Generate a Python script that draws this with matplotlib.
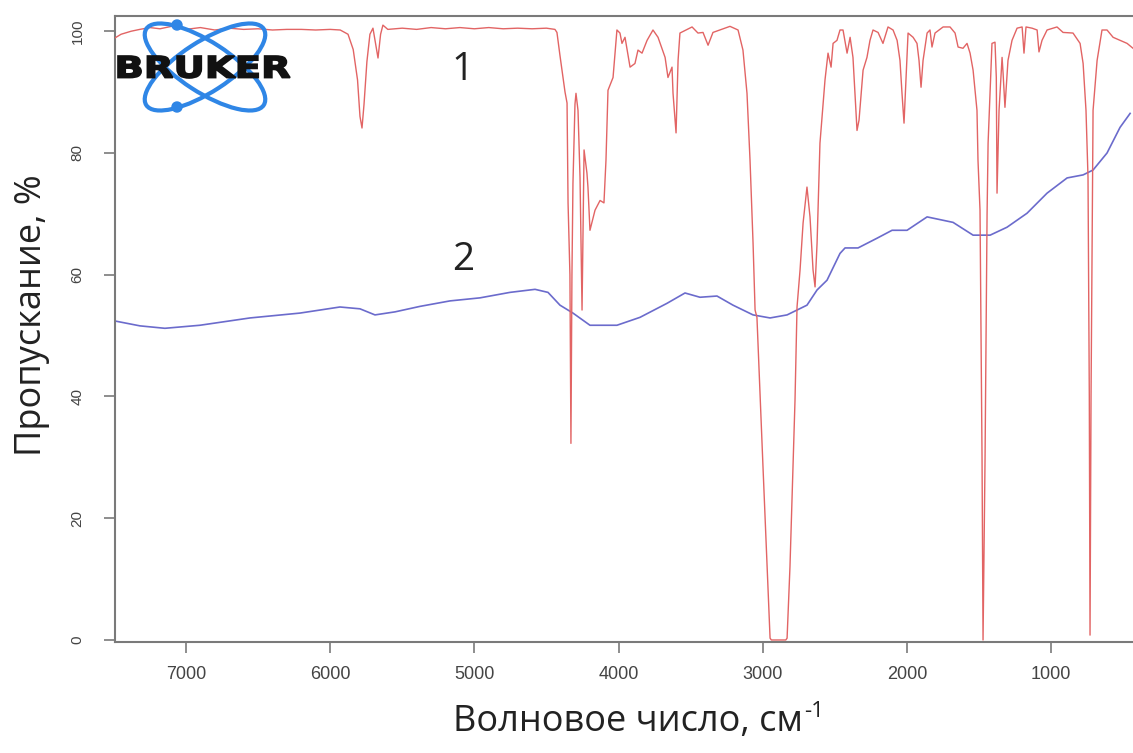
import matplotlib
matplotlib.use("Agg")
import matplotlib.pyplot as plt
from matplotlib.patches import Ellipse, Circle, PathPatch
from matplotlib.textpath import TextPath
from matplotlib.font_manager import FontProperties
from matplotlib.transforms import Affine2D

# ---------------- data ----------------
wn1 = [7492, 7450, 7423, 7380, 7320, 7250, 7180, 7100, 7000, 6900, 6800, 6700, 6600,
       6500, 6400, 6300, 6200, 6100, 6000, 5930, 5876, 5840, 5810, 5793, 5779, 5765,
       5745, 5724, 5703, 5685, 5668, 5650, 5634, 5600, 5500, 5400, 5300, 5200, 5100,
       5000, 4900, 4800, 4700, 4600, 4500, 4441, 4427, 4406, 4371, 4357, 4350, 4337,
       4330, 4323, 4316, 4302, 4295, 4281, 4267, 4253, 4239, 4219, 4212, 4198, 4163,
       4128, 4101, 4087, 4073, 4038, 4011, 3990, 3976, 3955, 3920, 3886, 3865, 3837,
       3802, 3761, 3726, 3677, 3657, 3629, 3622, 3601, 3587, 3574, 3490, 3449, 3414,
       3379, 3345, 3227, 3171, 3137, 3109, 3088, 3067, 3053, 3040, 2998, 2949, 2940,
       2840, 2831, 2811, 2776, 2762, 2741, 2720, 2693, 2672, 2651, 2637, 2623, 2603,
       2568, 2547, 2526, 2512, 2485, 2464, 2443, 2415, 2394, 2374, 2346, 2332, 2304,
       2277, 2256, 2235, 2200, 2166, 2131, 2096, 2068, 2048, 2034, 2020, 2006, 1992,
       1957, 1930, 1916, 1902, 1888, 1860, 1840, 1826, 1805, 1749, 1701, 1666, 1645,
       1611, 1583, 1562, 1541, 1514, 1507, 1493, 1479, 1472, 1458, 1444, 1437, 1410,
       1389, 1380, 1375, 1361, 1340, 1333, 1320, 1299, 1271, 1236, 1201, 1188, 1174,
       1132, 1097, 1084, 1063, 1028, 959, 917, 848, 799, 778, 758, 744, 735, 730, 723,
       709, 681, 647, 612, 570, 522, 473, 432]
t1 = [98.9, 99.5, 99.7, 100.0, 100.3, 100.6, 100.4, 100.8, 100.3, 100.6, 100.2, 100.5,
      100.3, 100.4, 100.2, 100.3, 100.3, 100.2, 100.3, 100.2, 99.5, 97.0, 92.0, 86.0,
      84.1, 88.0, 95.0, 99.5, 100.5, 98.0, 95.6, 99.5, 101.0, 100.3, 100.5, 100.3, 100.6,
      100.4, 100.6, 100.4, 100.6, 100.4, 100.5, 100.4, 100.5, 100.3, 99.8, 96.0, 90.0,
      88.2, 71.8, 60.0, 32.3, 60.0, 75.0, 88.0, 89.8, 87.0, 76.0, 54.2, 80.5, 76.7, 74.4,
      67.3, 70.6, 72.2, 71.8, 78.8, 90.3, 92.4, 100.2, 99.7, 98.0, 99.0, 94.1, 94.7, 96.9,
      96.4, 98.5, 100.2, 99.0, 95.7, 92.4, 94.1, 89.8, 83.3, 95.2, 99.7, 100.7, 99.7,
      99.8, 97.7, 99.8, 100.8, 100.2, 96.9, 89.8, 78.8, 65.2, 54.2, 53.0, 28.4, 0.3, 0.0,
      0.0, 0.3, 12.0, 39.4, 54.7, 60.8, 68.5, 74.4, 69.5, 60.8, 58.0, 65.2, 81.6, 92.0,
      96.4, 94.1, 98.0, 98.5, 100.2, 100.2, 96.4, 99.0, 95.7, 83.7, 85.4, 93.6, 95.7,
      98.5, 100.2, 99.8, 98.0, 100.7, 100.2, 98.5, 95.2, 89.8, 84.9, 92.4, 99.7, 99.0,
      98.0, 95.2, 90.8, 95.2, 99.7, 100.2, 97.4, 99.7, 100.7, 100.7, 99.7, 97.4, 97.2,
      98.0, 96.4, 93.6, 87.0, 78.8, 70.6, 30.0, 0.0, 30.0, 70.0, 81.6, 98.0, 98.2, 92.4,
      73.4, 87.0, 95.7, 93.1, 87.5, 95.2, 98.5, 100.5, 100.7, 96.4, 100.7, 100.5, 100.2,
      96.6, 98.5, 100.2, 100.7, 99.8, 99.7, 98.0, 94.7, 87.0, 76.0, 40.0, 0.8, 40.0,
      87.0, 95.2, 100.2, 100.2, 99.0, 98.5, 98.0, 97.2]

wn2 = [7492, 7319, 7146, 6903, 6556, 6209, 5932, 5793, 5689, 5550, 5377, 5169, 4961,
       4753, 4579, 4489, 4406, 4316, 4198, 4011, 3851, 3664, 3539, 3435, 3317, 3206,
       3067, 2949, 2831, 2693, 2623, 2554, 2464, 2429, 2339, 2207, 2103, 1999, 1860,
       1680, 1541, 1423, 1306, 1167, 1028, 889, 778, 709, 612, 522, 452]
t2 = [52.4, 51.6, 51.2, 51.7, 52.9, 53.7, 54.7, 54.4, 53.4, 53.9, 54.8, 55.7, 56.2,
      57.1, 57.6, 57.1, 55.0, 53.7, 51.7, 51.7, 53.0, 55.3, 57.0, 56.3, 56.5, 55.0,
      53.4, 52.9, 53.4, 55.0, 57.5, 59.1, 63.5, 64.4, 64.4, 66.0, 67.3, 67.3, 69.5,
      68.6, 66.5, 66.5, 67.8, 70.1, 73.4, 75.9, 76.4, 77.2, 80.0, 84.2, 86.5]

x_ticks = [7000, 6000, 5000, 4000, 3000, 2000, 1000]
y_ticks = [0, 20, 40, 60, 80, 100]
series_labels = ["1", "2"]
label_pos = [(5079, 93.6), (5079, 62.4)]
xlabel_main = "Волновое число, см"
xlabel_sup = "-1"
ylabel = "Пропускание, %"

# ---------------- figure ----------------
W, H = 1133, 753
fig = plt.figure(figsize=(W / 100, H / 100), dpi=100)
ax = fig.add_axes([115 / W, 1 - 642 / H, 1 - 115 / W, (642 - 16) / H])

ax.plot(wn1, t1, color='#e26464', lw=1.0, zorder=3)
ax.plot(wn2, t2, color='#6b6bcc', lw=1.2, zorder=2)

ax.set_xlim(7492, 432)
ax.set_ylim(-0.33, 102.5)
ax.set_xticks(x_ticks)
ax.set_yticks(y_ticks)

grey = '#7a7a7a'
for s in ['left', 'bottom', 'top']:
    ax.spines[s].set_color(grey)
    ax.spines[s].set_linewidth(1.5)
ax.spines['right'].set_visible(False)
ax.tick_params(axis='both', direction='out', length=8, width=1.2, color=grey,
               labelcolor='#444444')
ax.tick_params(axis='x', pad=9, labelsize=13)
ax.tick_params(axis='y', pad=14, labelsize=11)
for lab in ax.get_xticklabels():
    lab.set_fontfamily('Liberation Sans')
for lab in ax.get_yticklabels():
    lab.set_fontfamily('Liberation Sans')
    lab.set_rotation(90)
    lab.set_va('center')

for txt, (xx, yy) in zip(series_labels, label_pos):
    ax.text(xx, yy, txt, fontsize=28, family='Open Sans', color='#222222',
            ha='center', va='center', zorder=5)

xl = fig.text(628 / W, 1 - 722 / H, xlabel_main, fontsize=26, family='Open Sans',
              color='#222222', ha='center', va='center')
fig.text(32 / W, 1 - 315 / H, ylabel, fontsize=26, family='Open Sans',
         color='#222222', ha='center', va='center', rotation=90)

fig.canvas.draw()
bb = xl.get_window_extent()
fig.text((bb.x1 + 1) / W, (bb.y1 + 3) / H, xlabel_sup, fontsize=16,
         family='Open Sans', color='#222222', ha='left', va='top')

# ---------------- logo overlay (pixel coordinates) ----------------
ov = fig.add_axes([0, 0, 1, 1], zorder=10)
ov.set_xlim(0, W)
ov.set_ylim(H, 0)
ov.axis('off')
ov.patch.set_alpha(0)
logo_blue = '#2f86e6'
for ang in (33, -33):
    ov.add_patch(Ellipse((205, 67), 140, 50, angle=ang, fill=False,
                         ec=logo_blue, lw=3))
for cy in (25, 107):
    ov.add_patch(Circle((177, cy), 5, color=logo_blue))
tp = TextPath((0, 0), "BRUKER", size=1,
              prop=FontProperties(family='DejaVu Sans', weight='bold'))
ext = tp.get_extents()
x0, x1, ytop, ybot = 118, 290, 56, 78
sx = (x1 - x0) / ext.width
sy = (ybot - ytop) / ext.height
tr = Affine2D().translate(-ext.x0, -ext.y0).scale(sx, -sy).translate(x0, ybot)
path = tr.transform_path(tp)
ov.add_patch(PathPatch(path, fc='#111111', ec='#111111', lw=1.2))

fig.savefig("out.png", dpi=100)
